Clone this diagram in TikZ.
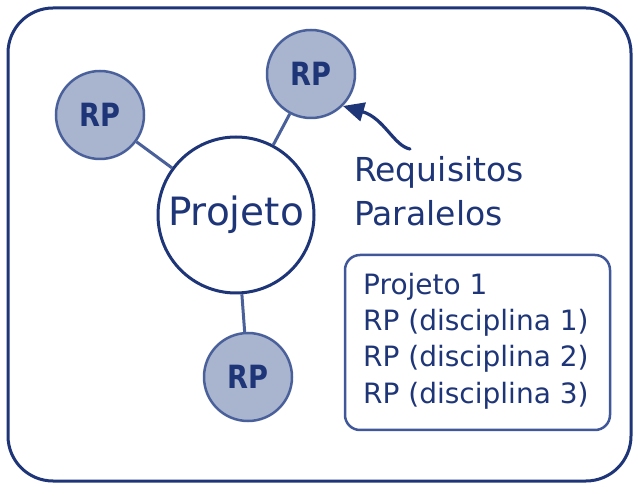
\documentclass[tikz,border=0pt]{standalone}
\usepackage{fontspec}
\setmainfont{DejaVu Sans}
\newfontfamily\rpfont[FakeStretch=0.85]{DejaVu Sans Bold}
\usetikzlibrary{arrows.meta}
\definecolor{navy}{HTML}{1E3578}
\definecolor{rpfill}{HTML}{A9B4CF}
\definecolor{rpline}{HTML}{4A609A}
\definecolor{boxline}{HTML}{40589A}
\tikzset{
  rpnode/.style={circle, draw=rpline, line width=2.5pt, fill=rpfill, minimum size=88pt, inner sep=0pt, text=navy, font=\rpfont\fontsize{32}{32}\selectfont},
  projcircle/.style={circle, draw=navy, line width=3pt, fill=white, minimum size=156pt, inner sep=0pt},
  link/.style={draw=rpline, line width=3pt},
  label/.style={text=navy, inner sep=0pt, anchor=base west},
}
\begin{document}
\begin{tikzpicture}[x=1pt,y=-1pt]
\useasboundingbox (0,0) rectangle (635,486);
\draw[navy, line width=3pt, rounded corners=45pt] (8,8) rectangle (631,481);
% nodes
\node[projcircle] (proj) at (236,215) {};
\node[rpnode] (rp1) at (100,115) {RP};
\node[rpnode] (rp2) at (311,74) {RP};
\node[rpnode] (rp3) at (248,377) {RP};
\node[text=navy, inner sep=0pt, anchor=base, font=\fontsize{39}{39}\selectfont] (projtxt) at (236,226) {Projeto};
% connectors
\draw[link] (rp1) -- (proj);
\draw[link] (rp2) -- (proj);
\draw[link] (rp3) -- (proj);
% arrow
\coordinate (tail) at (410,149);
\draw[navy, line width=3.2pt, line cap=round, -{Triangle[length=21pt,width=19pt]}] (tail) .. controls (394,146) and (384,118) .. (rp2.-45);
% label
\node[label, font=\fontsize{33}{33}\selectfont] (req) at (354,182) {Requisitos};
\node[label, font=\fontsize{33}{33}\selectfont] (par) at (354,226) {Paralelos};
% legend box
\draw[boxline, line width=2.5pt, rounded corners=15pt] (345,255) rectangle (610,430);
\node[label, font=\fontsize{28}{28}\selectfont] (l1) at (363,295) {Projeto 1};
\node[label, font=\fontsize{28}{28}\selectfont] (l2) at (363,331) {RP (disciplina 1)};
\node[label, font=\fontsize{28}{28}\selectfont] (l3) at (363,367) {RP (disciplina 2)};
\node[label, font=\fontsize{28}{28}\selectfont] (l4) at (363,403) {RP (disciplina 3)};
\end{tikzpicture}
\end{document}
